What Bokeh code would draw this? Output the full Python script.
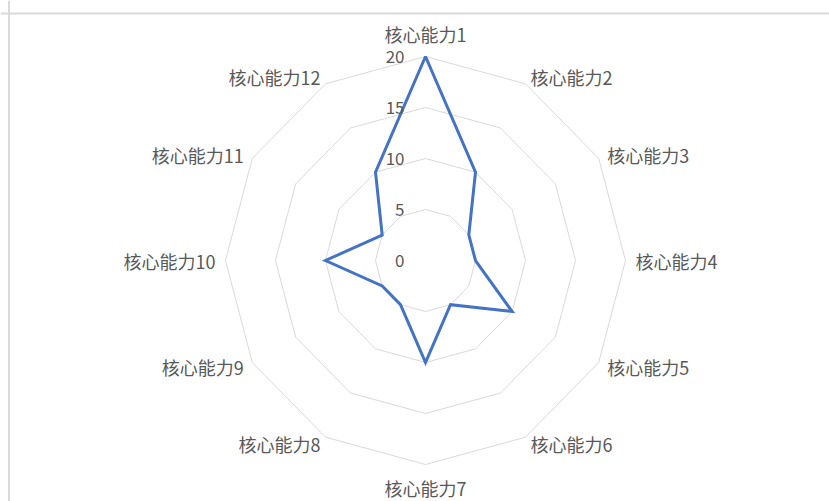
import numpy as np
from bokeh.plotting import figure
from bokeh.models import ColumnDataSource, Span
from bokeh.core.properties import value
from bokeh.embed import file_html
from bokeh.resources import INLINE

# ---- data ----
categories = ["核心能力1", "核心能力2", "核心能力3", "核心能力4", "核心能力5", "核心能力6",
              "核心能力7", "核心能力8", "核心能力9", "核心能力10", "核心能力11", "核心能力12"]
scores = [20, 10, 5, 5, 10, 5, 10, 5, 5, 10, 5, 10]
ring_values = [5, 10, 15, 20]
tick_values = [0, 5, 10, 15, 20]
tick_labels = ["0", "5", "10", "15", "20"]

# ---- geometry / styling ----
W, H = 829, 501
cx_px, cy_px = 425.0, 260.0      # center of the radar in canvas pixels
sx, sy = 10.0, 10.2              # pixels per unit
FONT = "Noto Sans CJK SC"
TXT = "#595959"

n = len(categories)
ang = np.pi / 2 - 2 * np.pi * np.arange(n) / n

p = figure(width=W, height=H, output_backend="svg", toolbar_location=None,
           x_axis_location=None, y_axis_location=None,
           x_range=(-cx_px / sx, (W - cx_px) / sx),
           y_range=(-(H - cy_px) / sy, cy_px / sy),
           min_border=0)
p.grid.visible = False
p.outline_line_color = None
p.background_fill_color = "white"
p.border_fill_color = "white"

# chart-area frame (top and left edges visible)
p.add_layout(Span(location=p.x_range.start + 8.5 / sx, dimension="height",
                  line_color="#d9d9d9", line_width=2))
p.add_layout(Span(location=p.y_range.end - 13.0 / sy, dimension="width",
                  line_color="#d9d9d9", line_width=2))

# rings
rx, ry = [], []
for r in ring_values:
    rx.append(list(r * np.cos(ang)) + [r * np.cos(ang[0])])
    ry.append(list(r * np.sin(ang)) + [r * np.sin(ang[0])])
p.multi_line(rx, ry, line_color="#d9d9d9", line_width=1)

# data series
s = np.array(scores, dtype=float)
dx = list(s * np.cos(ang)) + [s[0] * np.cos(ang[0])]
dy = list(s * np.sin(ang)) + [s[0] * np.sin(ang[0])]
p.line(dx, dy, line_color="#4472C4", line_width=3, line_join="miter")

# tick labels along the first axis
p.text(x=[0] * len(tick_values), y=tick_values, text=tick_labels,
       x_offset=-21, text_align="right", text_baseline="middle",
       text_font=value(FONT), text_font_size="17px", text_color=TXT)

# category labels
R = max(ring_values)
lx = R * np.cos(ang)
ly = R * np.sin(ang)
aligns, xo, yo = [], [], []
for a in ang:
    c, si = np.cos(a), np.sin(a)
    if abs(c) < 1e-6:
        aligns.append("center")
        xo.append(0)
        yo.append(-23 if si > 0 else 23)
    else:
        aligns.append("left" if c > 0 else "right")
        xo.append(10 * c)
        yo.append(-8 * si)
src = ColumnDataSource(dict(x=lx, y=ly, t=categories, al=aligns, xo=xo, yo=yo))
p.text(x="x", y="y", text="t", source=src, text_align="al", x_offset="xo", y_offset="yo",
       text_baseline="middle", text_font=value(FONT), text_font_size="18px",
       text_color=TXT)

open("out.html", "w").write(file_html(p, INLINE))
